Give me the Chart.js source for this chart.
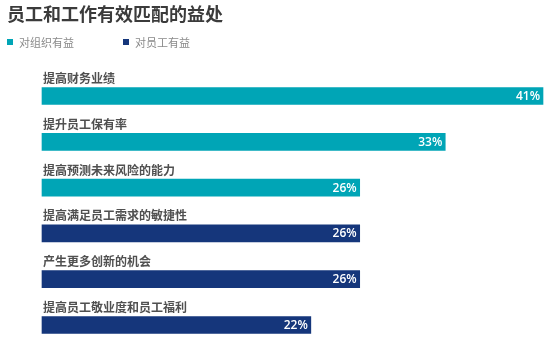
<!DOCTYPE html>
<html>
<head>
<meta charset="utf-8">
<script src="https://cdn.jsdelivr.net/npm/chart.js@4/dist/chart.umd.min.js"></script>
<style>
  body { margin: 0; background: #fff; }
</style>
</head>
<body>
<canvas id="myChart" width="550" height="346"></canvas>
<script>
let chartTitle = "员工和工作有效匹配的益处";
let categories = ["提高财务业绩", "提升员工保有率", "提高预测未来风险的能力", "提高满足员工需求的敏捷性", "产生更多创新的机会", "提高员工敬业度和员工福利"];
let seriesNames = ["对组织有益", "对员工有益"];
let orgValues = [41, 33, 26, null, null, null];
let empValues = [null, null, null, 26, 26, 22];
let colors = ["#00a5b6", "#15367b"];

let cjk = '"Noto Sans CJK SC", "Noto Sans", sans-serif';

// title, legend, category labels and value labels drawn on the canvas
let textPlugin = {
    id: "texts",
    afterDatasetsDraw: function (chart) {
        let ctx = chart.ctx;
        let xScale = chart.scales.x;
        let yScale = chart.scales.y;
        ctx.save();

        ctx.fillStyle = "#3b3b3b";
        ctx.font = "bold 18px " + cjk;
        ctx.textAlign = "left";
        ctx.textBaseline = "middle";
        ctx.fillText(chartTitle, 7, 14);

        let legendX = [7, 123];
        ctx.font = "11px " + cjk;
        chart.data.datasets.forEach(function (ds, i) {
            ctx.fillStyle = ds.backgroundColor;
            ctx.fillRect(legendX[i], 39, 6, 6);
            ctx.fillStyle = "#8a8a8a";
            ctx.fillText(ds.label, legendX[i] + 12, 42.5);
        });

        ctx.fillStyle = "#505050";
        ctx.font = "bold 12px " + cjk;
        categories.forEach(function (c, i) {
            ctx.fillText(c, 43, yScale.getPixelForValue(i) - 17.5);
        });

        ctx.fillStyle = "#ffffff";
        ctx.font = "600 12px \"Open Sans\", sans-serif";
        ctx.textAlign = "right";
        chart.data.datasets.forEach(function (ds) {
            ds.data.forEach(function (v, i) {
                if (v === null) return;
                ctx.fillText(v + "%", xScale.getPixelForValue(v) - 3, yScale.getPixelForValue(i) + 0.5);
            });
        });
        ctx.restore();
    }
};

let benefitChart = new Chart("myChart", {
    type: "bar",
    data: {
        labels: categories,
        datasets: [{
            label: seriesNames[0],
            backgroundColor: colors[0],
            data: orgValues,
            barThickness: 17,
            clip: false
        }, {
            label: seriesNames[1],
            backgroundColor: colors[1],
            data: empValues,
            barThickness: 17,
            clip: false
        }]
    },
    options: {
        responsive: false,
        animation: false,
        indexAxis: "y",
        layout: { padding: { top: 96, bottom: 21, left: 42, right: 7 } },
        plugins: {
            legend: { display: false },
            title: { display: false },
            tooltip: { enabled: false }
        },
        scales: {
            x: { display: false, min: 0, max: 41, stacked: true },
            y: { display: false, stacked: true, offset: false }
        }
    },
    plugins: [textPlugin]
});
</script>
</body>
</html>
